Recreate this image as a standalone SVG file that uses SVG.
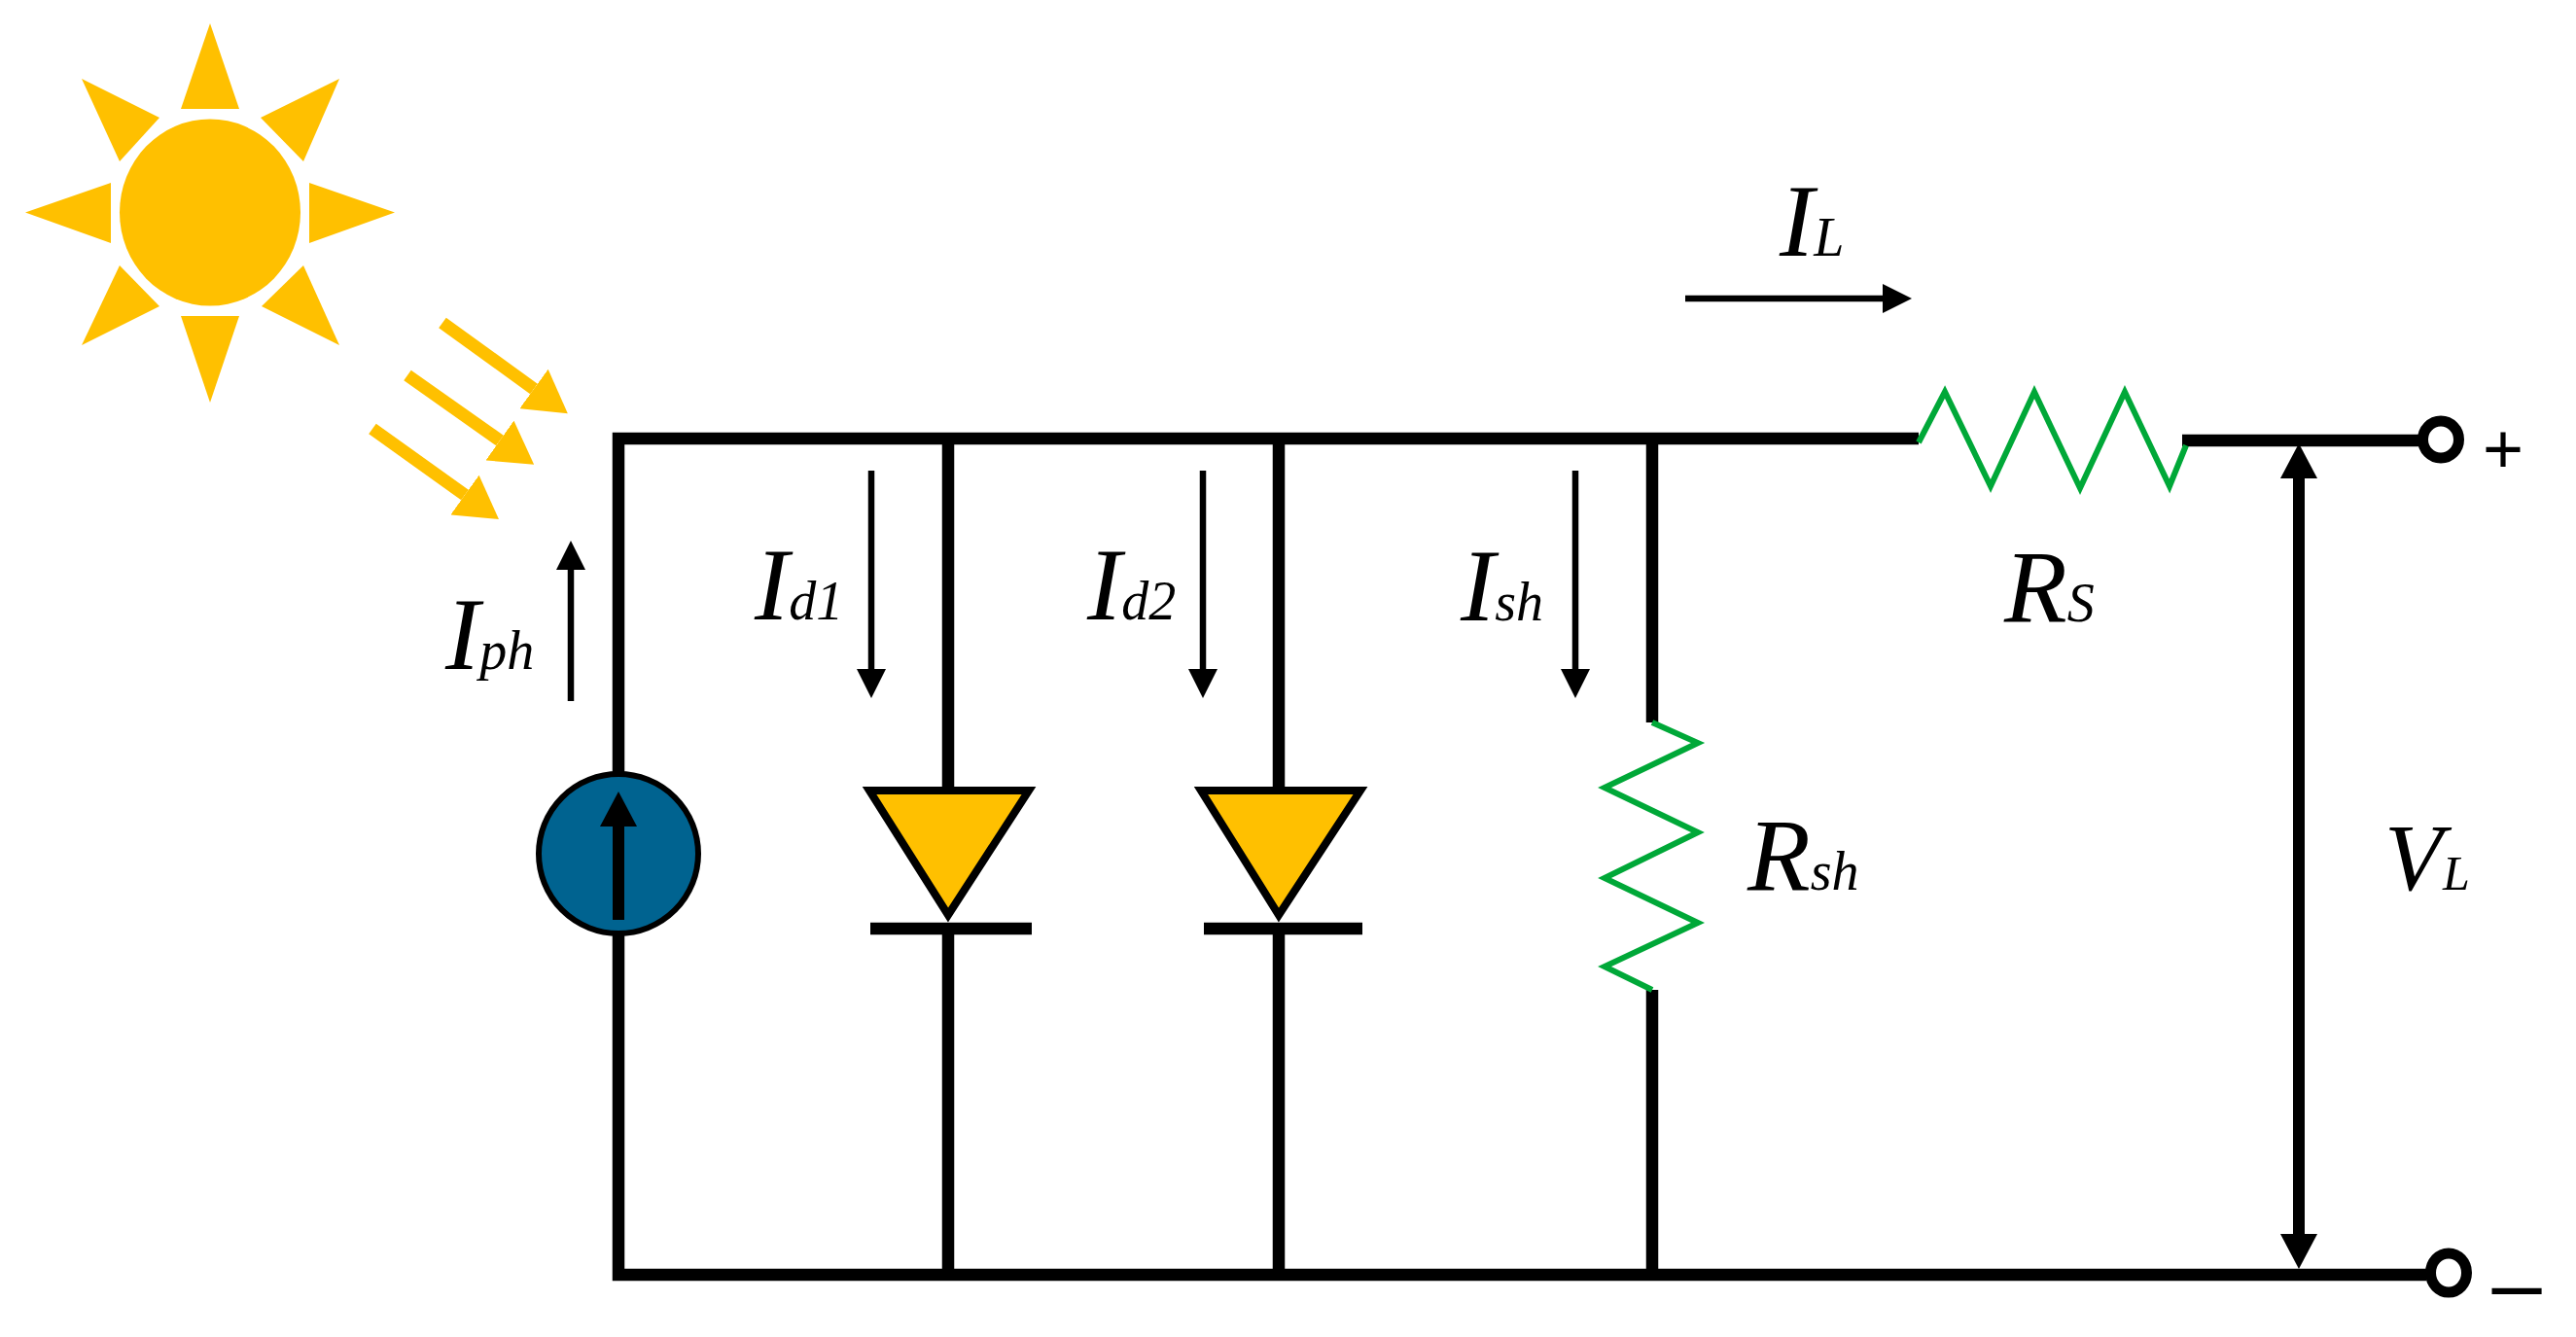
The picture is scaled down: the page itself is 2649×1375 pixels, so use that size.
<svg xmlns="http://www.w3.org/2000/svg" width="2649" height="1375" viewBox="0 0 2649 1375">
<style>
.wire{fill:none;stroke:#000;stroke-width:12.5}
.thin{fill:none;stroke:#000;stroke-width:6.5;marker-end:url(#headThin)}
.thick{fill:none;stroke:#000;stroke-width:12}
.ray{fill:none;stroke:#FFC000;stroke-width:13;marker-end:url(#headRay)}
.res{fill:none;stroke:#00A838;stroke-width:6;stroke-miterlimit:3}
.sun{fill:#FFC000}
.dio{fill:#FFC000;stroke:#000;stroke-width:8}
.term{fill:#fff;stroke:#000;stroke-width:11}
.lab{font-family:"Liberation Serif","Times New Roman",serif;font-style:italic;fill:#000}
.big{font-size:106px}
.sub{font-size:56px}
.sign{font-family:"Liberation Sans",Arial,sans-serif;fill:#000;text-anchor:middle}
</style>
<defs>
<marker id="headThin" markerUnits="userSpaceOnUse" markerWidth="30" markerHeight="30" refX="0" refY="15" orient="auto"><path d="M0 0L30 15L0 30Z" fill="#000"/></marker>
<marker id="headThick" markerUnits="userSpaceOnUse" markerWidth="36" markerHeight="38" refX="0" refY="19" orient="auto-start-reverse"><path d="M0 0L36 19L0 38Z" fill="#000"/></marker>
<marker id="headRay" markerUnits="userSpaceOnUse" markerWidth="43" markerHeight="50" refX="0" refY="25" orient="auto"><path d="M0 0L43 25L0 50Z" fill="#FFC000"/></marker>
</defs>
<rect width="2649" height="1375" fill="#fff"/>
<g id="sun">
<ellipse class="sun" cx="216" cy="218.5" rx="93" ry="96"/>
<polygon class="sun" points="216,24 186,112 246,112"/>
<polygon class="sun" points="216,414 186,325 246,325"/>
<polygon class="sun" points="26,218.5 114,188 114,250"/>
<polygon class="sun" points="406,218.5 318,188 318,250"/>
<polygon class="sun" points="84,81 164,121 123,166"/>
<polygon class="sun" points="349,81 268,121 312,166"/>
<polygon class="sun" points="84,355 123,273 164,315"/>
<polygon class="sun" points="349,355 312,273 269,315"/>
</g>
<g id="light-rays">
<line class="ray" x1="455" y1="332" x2="549" y2="400"/>
<line class="ray" x1="419" y1="386" x2="514" y2="453"/>
<line class="ray" x1="383" y1="441" x2="478" y2="509"/>
</g>
<g id="connectors">
<path class="wire" d="M1973 451H636V794"/>
<path class="wire" d="M636 962V1311H2495"/>
<path class="wire" d="M2244 453H2492"/>
<path class="wire" d="M975 451V811M975 955V1311"/>
<path class="wire" d="M1315 451V811M1315 955V1311"/>
<path class="wire" d="M1699 451V743M1699 1018V1311"/>
<line class="thin" x1="587" y1="721" x2="587" y2="586"/>
<line class="thin" x1="896" y1="484" x2="896" y2="688"/>
<line class="thin" x1="1237" y1="484" x2="1237" y2="688"/>
<line class="thin" x1="1620" y1="484" x2="1620" y2="688"/>
<line class="thin" x1="1733" y1="307" x2="1936" y2="307"/>
<line class="thick" x1="2364" y1="492" x2="2364" y2="1269" marker-start="url(#headThick)" marker-end="url(#headThick)"/>
</g>
<g id="source">
<circle cx="636" cy="878" r="82" fill="#006390" stroke="#000" stroke-width="6"/>
<line class="thick" x1="636" y1="946" x2="636" y2="850" marker-end="url(#headThick)"/>
</g>
<g id="diode1">
<polygon class="dio" points="894,813 1058,813 975,941"/>
<line class="wire" x1="895" y1="955" x2="1061" y2="955"/>
</g>
<g id="diode2">
<polygon class="dio" points="1235,813 1399,813 1315,941"/>
<line class="wire" x1="1238" y1="955" x2="1401" y2="955"/>
</g>
<g id="rsh"><polyline class="res" points="1699,743 1746,764 1650,810 1746,856 1650,903 1746,949 1650,994 1699,1018"/></g>
<g id="rs"><polyline class="res" points="1973,455 2000,403 2047,500 2092,403 2139,502 2185,403 2231,500 2248,458"/></g>
<g id="terminal-plus"><ellipse class="term" cx="2510" cy="452" rx="18.5" ry="19"/><text class="sign" x="2574" y="486" font-size="72">+</text></g>
<g id="terminal-minus"><ellipse class="term" cx="2518" cy="1309" rx="18.5" ry="20"/><text class="sign" x="2588" y="1351" font-size="92">–</text></g>
<g id="labels">
<text class="lab" x="458" y="688"><tspan class="big">I</tspan><tspan class="sub">ph</tspan></text>
<text class="lab" x="776" y="637"><tspan class="big">I</tspan><tspan class="sub">d1</tspan></text>
<text class="lab" x="1118" y="637"><tspan class="big">I</tspan><tspan class="sub">d2</tspan></text>
<text class="lab" x="1502" y="638"><tspan class="big">I</tspan><tspan class="sub">sh</tspan></text>
<text class="lab" x="1830" y="263"><tspan class="big">I</tspan><tspan class="sub">L</tspan></text>
<text class="lab" x="2061" y="639"><tspan class="big">R</tspan><tspan class="sub">S</tspan></text>
<text class="lab" x="1797" y="915"><tspan class="big">R</tspan><tspan class="sub">sh</tspan></text>
<text class="lab" x="2452" y="915"><tspan font-size="98">V</tspan><tspan font-size="50">L</tspan></text>
</g>
</svg>
